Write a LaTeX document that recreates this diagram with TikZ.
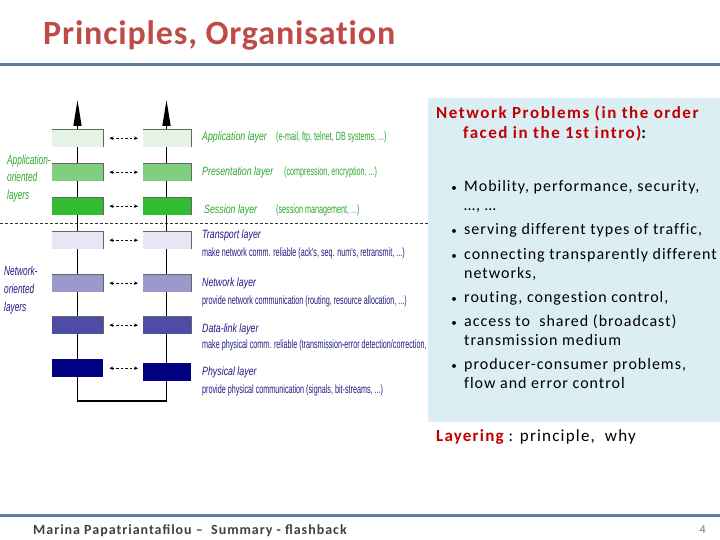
\documentclass[tikz,border=0pt]{standalone}
\usepackage{fontspec}
\setmainfont{Carlito}
\newfontfamily\narrowf[FakeStretch=0.6]{Liberation Sans}
\newfontfamily\narrowi[FakeStretch=0.735]{Liberation Sans Italic}
\newfontfamily\sidef[FakeStretch=0.64]{Liberation Sans Italic}
\usetikzlibrary{arrows.meta}
\definecolor{titlered}{HTML}{BE4B48}
\definecolor{hdrblue}{HTML}{5B7FA3}
\definecolor{probred}{HTML}{C00000}
\definecolor{panelblue}{HTML}{DBEEF4}
\definecolor{lgreen}{HTML}{2CA62C}
\definecolor{lnavy}{HTML}{1C1C80}
\definecolor{c1}{HTML}{E6F4E6}
\definecolor{c2}{HTML}{7FCF7F}
\definecolor{c3}{HTML}{33BB33}
\definecolor{c4}{HTML}{E6E6F4}
\definecolor{c5}{HTML}{9999CC}
\definecolor{c6}{HTML}{4D4DA6}
\definecolor{c7}{HTML}{000080}
\begin{document}
\begin{tikzpicture}[x=1pt,y=-1pt,
  layerbox/.style={minimum height=18pt, inner sep=0pt, anchor=north west},
  lbox/.style={layerbox, minimum width=51pt},
  rbox/.style={layerbox, minimum width=48pt},
  boxedge/.style={draw=black!60, line width=0.8pt},
  dasharrow/.style={dash pattern=on 2.5pt off 2pt, line width=0.7pt, {Stealth[length=4pt,width=3.5pt]}-{Stealth[length=4pt,width=3.5pt]}, shorten <=6pt, shorten >=5pt},
  lbl/.style={anchor=base west, inner sep=0pt, font=\narrowf\fontsize{12}{14}\selectfont},
  lbli/.style={anchor=base west, inner sep=0pt, font=\narrowi\fontsize{12}{14}\selectfont},
  side/.style={anchor=base west, inner sep=0pt, font=\sidef\fontsize{13}{15}\selectfont},
  ptxt/.style={anchor=base west, inner sep=0pt, font=\addfontfeatures{LetterSpace=6.2,Ligatures=NoCommon}\fontsize{16}{19}\selectfont},
  bul/.style={anchor=base, inner sep=0pt, font=\fontsize{11}{13}\selectfont},
  hline/.style={draw=hdrblue, line width=3pt}]
\useasboundingbox (0,0) rectangle (720,540);
% title and rules
\node[anchor=base west, inner sep=0pt, text=titlered, font=\addfontfeatures{LetterSpace=2.5,Ligatures=NoCommon}\bfseries\fontsize{34}{40}\selectfont] (title) at (43,45) {Principles, Organisation};
\coordinate (h1a) at (0,65); \coordinate (h1b) at (720,65);
\draw[hline] (h1a) -- (h1b);
\coordinate (h2a) at (0,515); \coordinate (h2b) at (720,515);
\draw[hline] (h2a) -- (h2b);
\node[anchor=base west, inner sep=0pt, text=black!75, font=\addfontfeatures{LetterSpace=7}\bfseries\fontsize{14}{16}\selectfont] (foot) at (33,534) {Marina Papatriantafilou –\ \ Summary - flashback};
\node[anchor=base east, inner sep=0pt, text=black!55, font=\fontsize{12}{14}\selectfont] (pnum) at (706,533) {4};
% stack lines
\coordinate (ltop) at (77.5,100); \coordinate (lbot) at (77.5,401);
\coordinate (rtop) at (166.5,100); \coordinate (rbot) at (166.5,401);
\draw[line width=1.4pt, {Triangle[length=26pt,width=8pt]}-{Triangle[length=26pt,width=8pt]}] (ltop) -- (lbot) -- (rbot) -- (rtop);
% boxes
\node[lbox, fill=c1] (L1) at (52,129) {};
\node[rbox, fill=c1] (R1) at (143,129) {};
\node[lbox, fill=c2] (L2) at (52,163) {};
\node[rbox, fill=c2] (R2) at (143,163) {};
\node[lbox, fill=c3] (L3) at (52,197) {};
\node[rbox, fill=c3] (R3) at (143,197) {};
\node[lbox, fill=c4] (L4) at (52,231) {};
\node[rbox, fill=c4] (R4) at (143,231) {};
\node[lbox, fill=c5] (L5) at (52,274) {};
\node[rbox, fill=c5] (R5) at (143,274) {};
\node[lbox, fill=c6] (L6) at (52,316) {};
\node[rbox, fill=c6] (R6) at (143,316) {};
\node[lbox, fill=c7] (L7) at (52,359) {};
\node[rbox, fill=c7] (R7) at (143,363) {};
\foreach \i in {1,...,6} {
  \draw[boxedge] (L\i.north west) -- (L\i.north east) -- (L\i.south east);
  \draw[boxedge] (R\i.north west) -- (R\i.north east) -- (R\i.south east);
  \draw[dasharrow] (L\i.east) -- (R\i.west);}
\draw[dasharrow] (L7.east) -- (L7.east -| R7.west);
% separator
\coordinate (sepa) at (0,223); \coordinate (sepb) at (430,223);
\draw[dash pattern=on 3pt off 2pt, line width=0.7pt, black!80] (sepa) -- (sepb);
% side labels
\node[side, text=lgreen] (sa1) at (7,165) {Application-};
\node[side, text=lgreen] (sa2) at (7,182) {oriented};
\node[side, text=lgreen] (sa3) at (7,200) {layers};
\node[side, text=lnavy] (sn1) at (4,275) {Network-};
\node[side, text=lnavy] (sn2) at (4,293) {oriented};
\node[side, text=lnavy] (sn3) at (4,311) {layers};
% layer labels
\node[lbli, text=lgreen] (a1) at (202,141) {Application layer};
\node[lbl, text=lgreen] (a2) at (276,141) {(e-mail, ftp, telnet, DB systems, ...)};
\node[lbli, text=lgreen] (b1) at (202,176) {Presentation layer};
\node[lbl, text=lgreen] (b2) at (284,176) {(compression, encryption, ...)};
\node[lbli, text=lgreen] (s1) at (204,214) {Session layer};
\node[lbl, text=lgreen] (s2) at (276,214) {(session management, ...)};
\node[lbli, text=lnavy] (t1) at (202,238) {Transport layer};
\node[lbl, text=lnavy] (t2) at (202,256) {make network comm. reliable (ack's, seq. num's, retransmit, ...)};
\node[lbli, text=lnavy] (n1) at (202,286) {Network layer};
\node[lbl, text=lnavy] (n2) at (202,304) {provide network communication (routing, resource allocation, ...)};
\node[lbli, text=lnavy] (d1) at (202,332) {Data-link layer};
\node[lbl, text=lnavy] (d2) at (202,348) {make physical comm. reliable (transmission-error detection/correction, ...)};
\node[lbli, text=lnavy] (p1) at (202,375) {Physical layer};
\node[lbl, text=lnavy] (p2) at (202,393) {provide physical communication (signals, bit-streams, ...)};
% right panel
\node[fill=panelblue, minimum width=292pt, minimum height=324pt, inner sep=0pt, anchor=north west] (panel) at (428,98) {};
\node[anchor=base west, inner sep=0pt, font=\addfontfeatures{LetterSpace=9}\bfseries\fontsize{17}{20}\selectfont, text=probred] (np1) at (436,119) {Network Problems (in the order};
\node[anchor=base west, inner sep=0pt, font=\addfontfeatures{LetterSpace=9}\bfseries\fontsize{17}{20}\selectfont] (np2) at (463,139) {\textcolor{probred}{faced in the 1st intro)}:};
\foreach \y in {192,235,259,302,326,369} {\node[bul] at (454,\y) {•};}
\node[ptxt] (i1) at (464,192) {Mobility, performance, security,};
\node[ptxt] (i1b) at (464,211) {…, …};
\node[ptxt] (i2) at (464,235) {serving different types of traffic,};
\node[ptxt] (i3) at (464,259) {connecting transparently different};
\node[ptxt] (i3b) at (464,278) {networks,};
\node[ptxt] (i4) at (464,302) {routing, congestion control,};
\node[ptxt] (i5) at (464,326) {access to\ \ shared (broadcast)};
\node[ptxt] (i5b) at (464,345) {transmission medium};
\node[ptxt] (i6) at (464,369) {producer-consumer problems,};
\node[ptxt] (i6b) at (464,388) {flow and error control};
\node[anchor=base west, inner sep=0pt, font=\addfontfeatures{LetterSpace=7}\fontsize{17}{20}\selectfont] (lay) at (436,441) {\textcolor{probred}{\bfseries Layering} : principle,\ \ why};
\end{tikzpicture}
\end{document}
